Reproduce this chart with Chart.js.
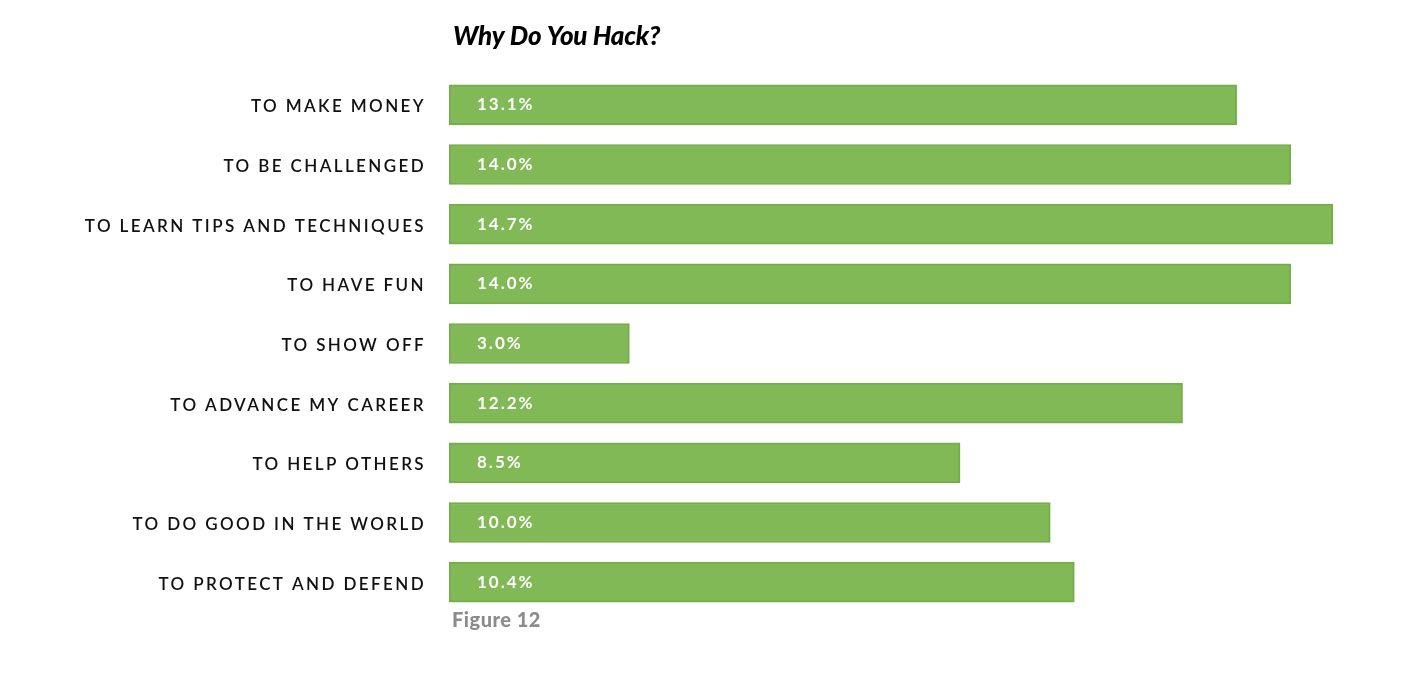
<!DOCTYPE html>
<html>
<head>
<meta charset="utf-8">
<script src="https://cdn.jsdelivr.net/npm/chart.js@4.4.1/dist/chart.umd.min.js"></script>
<style>
  body { margin: 0; background: #fff; }
  #wrap { width: 1426px; height: 692px; }
</style>
</head>
<body>
<div id="wrap"><canvas id="myChart" width="1426" height="692"></canvas></div>
<script>
var chartTitle = "Why Do You Hack?";
var figureLabel = "Figure 12";
var categories = [
    "TO MAKE MONEY",
    "TO BE CHALLENGED",
    "TO LEARN TIPS AND TECHNIQUES",
    "TO HAVE FUN",
    "TO SHOW OFF",
    "TO ADVANCE MY CAREER",
    "TO HELP OTHERS",
    "TO DO GOOD IN THE WORLD",
    "TO PROTECT AND DEFEND"
];
var shares = [13.1, 14.0, 14.7, 14.0, 3.0, 12.2, 8.5, 10.0, 10.4];

// title, bar value labels and figure caption
var extraText = {
    id: "extraText",
    beforeDraw: function (chart) {
        chart.ctx.letterSpacing = "2.4px";
    },
    afterDatasetsDraw: function (chart) {
        var ctx = chart.ctx;
        var area = chart.chartArea;
        var meta = chart.getDatasetMeta(0);
        var x0 = chart.scales.x.getPixelForValue(0);
        ctx.save();
        ctx.letterSpacing = "2px";
        ctx.fillStyle = "#ffffff";
        ctx.font = "bold 17px Lato";
        ctx.textBaseline = "middle";
        ctx.textAlign = "left";
        meta.data.forEach(function (bar, i) {
            ctx.fillText(shares[i].toFixed(1) + "%", x0 + 28, bar.y);
        });

        ctx.letterSpacing = "-0.2px";
        ctx.fillStyle = "#000000";
        ctx.font = "italic 900 26px Lato";
        ctx.fillText(chartTitle, area.left + 4, 37);

        ctx.letterSpacing = "0.5px";
        ctx.fillStyle = "#8c8c8c";
        ctx.font = "900 20px Lato";
        ctx.fillText(figureLabel, area.left + 3, area.bottom + 9);
        ctx.restore();
    }
};

new Chart("myChart", {
    type: "bar",
    data: {
        labels: categories,
        datasets: [{
            data: shares,
            backgroundColor: "#82b957",
            borderColor: "#76ad4a",
            borderWidth: 2,
            borderSkipped: false,
            barThickness: 40
        }]
    },
    options: {
        indexAxis: "y",
        responsive: false,
        animation: false,
        layout: { padding: { top: 75, bottom: 80, right: 15, left: 0 } },
        plugins: {
            legend: { display: false },
            tooltip: { enabled: false }
        },
        scales: {
            x: {
                display: false,
                min: 0,
                max: 16
            },
            y: {
                grid: { display: false, drawTicks: false },
                border: { display: false },
                afterFit: function (scale) { scale.width = 449; },
                ticks: {
                    padding: 23,
                    labelOffset: 2,
                    color: "#111111",
                    font: { family: "Lato", size: 17, weight: "600" }
                }
            }
        }
    },
    plugins: [extraText]
});
</script>
</body>
</html>
